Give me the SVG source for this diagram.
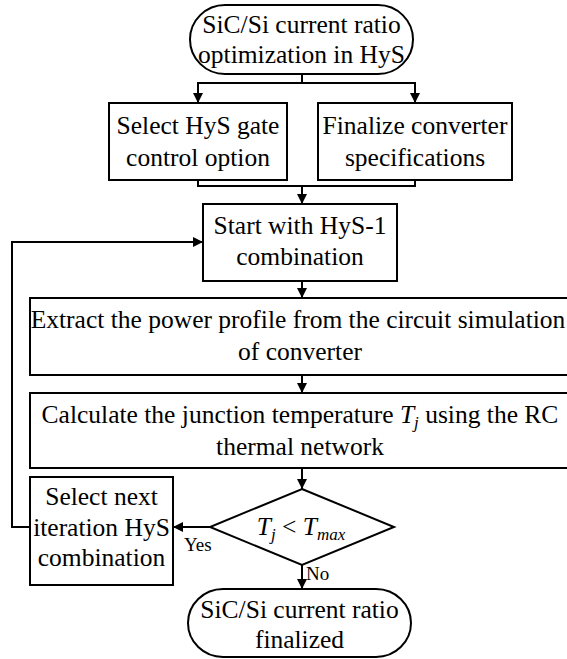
<svg xmlns="http://www.w3.org/2000/svg" width="567" height="659" viewBox="0 0 567 659">
<defs>
<marker id="ah" viewBox="0 0 10 10" refX="10" refY="5" markerWidth="10" markerHeight="10" markerUnits="userSpaceOnUse" orient="auto">
<path d="M0,0 L10,5 L0,10 z" fill="#000"/>
</marker>
<style>
.n{fill:#fff;stroke:#000;stroke-width:2}
.t{font-family:"Liberation Serif","Times New Roman",serif;font-size:25.5px;fill:#000;text-anchor:middle}
.s{font-family:"Liberation Serif","Times New Roman",serif;font-size:19px;fill:#000}
.c{fill:none;stroke:#000;stroke-width:2}
.a{fill:none;stroke:#000;stroke-width:2;marker-end:url(#ah)}
</style>
</defs>
<rect width="567" height="659" fill="#fff"/>
<g id="connectors">
<polyline class="c" points="302,74 302,83"/>
<polyline class="a" points="302,83 198,83 198,103"/>
<polyline class="a" points="302,83 415,83 415,103"/>
<polyline class="c" points="198,180 198,186 415,186 415,180"/>
<polyline class="a" points="302,186 302,204"/>
<polyline class="a" points="302,281 302,298"/>
<polyline class="a" points="302,375 302,393"/>
<polyline class="a" points="302,468 302,489"/>
<polyline class="a" points="210,527 173,527"/>
<polyline class="a" points="302,565 302,589"/>
<polyline class="a" points="30,527 12,527 12,242 203,242"/>
<text class="s" x="184" y="551">Yes</text>
<text class="s" x="306" y="580">No</text>
</g>
<g id="start">
<rect class="n" x="190" y="5" width="223" height="69" rx="35" ry="34.5"/>
<text class="t" x="301.5" y="33">SiC/Si current ratio</text>
<text class="t" x="301.5" y="63">optimization in HyS</text>
</g>
<g id="gate">
<rect class="n" x="109" y="103" width="178" height="77"/>
<text class="t" x="198" y="134">Select HyS gate</text>
<text class="t" x="198" y="166">control option</text>
</g>
<g id="spec">
<rect class="n" x="318" y="103" width="194" height="77"/>
<text class="t" x="415" y="134">Finalize converter</text>
<text class="t" x="415" y="166">specifications</text>
</g>
<g id="hys1">
<rect class="n" x="203" y="204" width="194" height="77"/>
<text class="t" x="300" y="234">Start with HyS-1</text>
<text class="t" x="300" y="265">combination</text>
</g>
<g id="extract">
<rect class="n" x="30" y="298" width="545" height="77"/>
<text class="t" x="298" y="328">Extract the power profile from the circuit simulation</text>
<text class="t" x="300" y="360">of converter</text>
</g>
<g id="calc">
<rect class="n" x="30" y="393" width="545" height="75"/>
<text class="t" x="300" y="423">Calculate the junction temperature <tspan font-style="italic">T</tspan><tspan font-style="italic" font-size="17" dy="5">j</tspan><tspan dy="-5"> using the RC</tspan></text>
<text class="t" x="300" y="455">thermal network</text>
</g>
<g id="decision">
<polygon class="n" points="302,489 394,527 302,565 210,527"/>
<text class="t" x="301" y="535"><tspan font-style="italic">T</tspan><tspan font-style="italic" font-size="17" dy="5">j</tspan><tspan dy="-5"> &lt; </tspan><tspan font-style="italic">T</tspan><tspan font-style="italic" font-size="17" dy="5">max</tspan></text>
</g>
<g id="next">
<rect class="n" x="30" y="477" width="143" height="108"/>
<text class="t" x="101.5" y="505">Select next</text>
<text class="t" x="101.5" y="536">iteration HyS</text>
<text class="t" x="101.5" y="566">combination</text>
</g>
<g id="end">
<rect class="n" x="188" y="589" width="223" height="68" rx="35" ry="34"/>
<text class="t" x="299.5" y="618">SiC/Si current ratio</text>
<text class="t" x="299.5" y="648">finalized</text>
</g>
</svg>
